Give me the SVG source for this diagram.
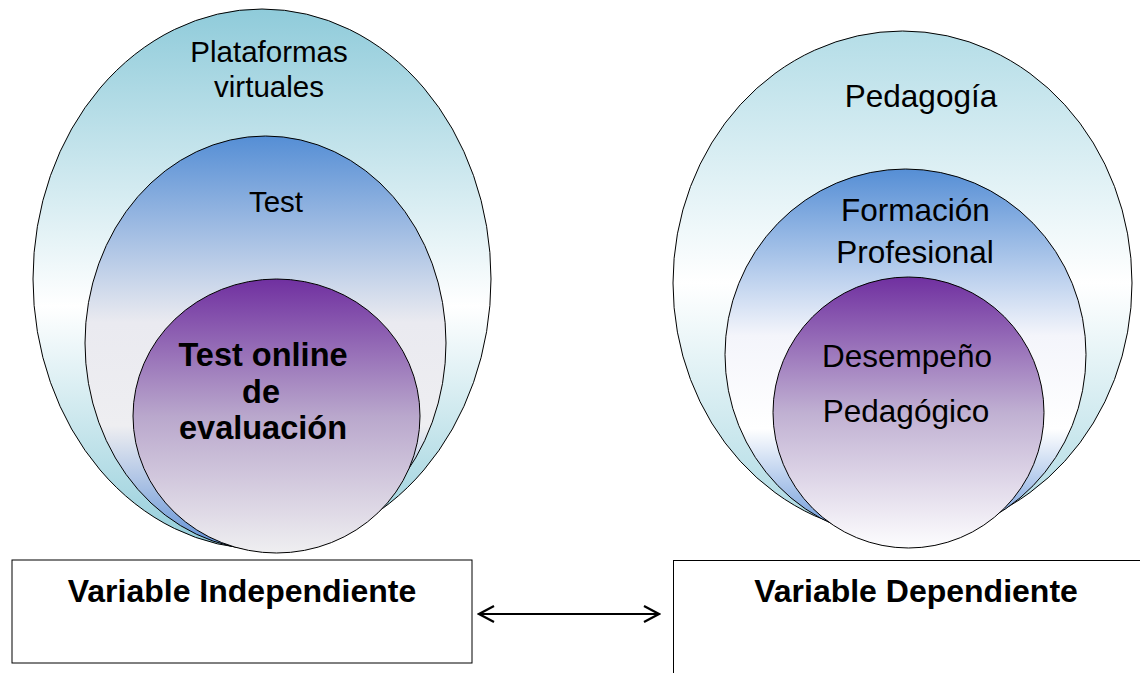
<svg xmlns="http://www.w3.org/2000/svg" width="1140" height="673" viewBox="0 0 1140 673">
<style>
.sh{stroke:#000;stroke-width:1}
.t{font-family:"Liberation Sans",Arial,sans-serif;fill:#000;text-anchor:middle}
.b{font-weight:bold}
.box{fill:#fff;stroke:#000;stroke-width:1}
</style>
<defs>
<linearGradient id="gOutL" x1="0" y1="0" x2="0" y2="1">
<stop offset="0" stop-color="#8fcbda"/><stop offset="0.55" stop-color="#ffffff"/><stop offset="1" stop-color="#92cdda"/>
</linearGradient>
<linearGradient id="gOutR" x1="0" y1="0" x2="0" y2="1">
<stop offset="0" stop-color="#b4dde7"/><stop offset="0.5" stop-color="#ffffff"/><stop offset="1" stop-color="#a9d8e2"/>
</linearGradient>
<linearGradient id="gMidL" x1="0" y1="0" x2="0" y2="1">
<stop offset="0" stop-color="#558ed5"/><stop offset="0.45" stop-color="#eaeaf0"/><stop offset="0.7" stop-color="#eeeef1"/><stop offset="1" stop-color="#5e8fd6"/>
</linearGradient>
<linearGradient id="gMidR" x1="0" y1="0" x2="0" y2="1">
<stop offset="0" stop-color="#558ed5"/><stop offset="0.45" stop-color="#f4f5fb"/><stop offset="0.7" stop-color="#ffffff"/><stop offset="1" stop-color="#5e8fd6"/>
</linearGradient>
<linearGradient id="gInL" x1="0" y1="0" x2="0" y2="1">
<stop offset="0" stop-color="#7030a0"/><stop offset="0.5" stop-color="#b9a7cc"/><stop offset="1" stop-color="#efeff1"/>
</linearGradient>
<linearGradient id="gInR" x1="0" y1="0" x2="0" y2="1">
<stop offset="0" stop-color="#7030a0"/><stop offset="0.5" stop-color="#c0b0d2"/><stop offset="1" stop-color="#fdfdfe"/>
</linearGradient>
<marker id="ah" viewBox="0 0 20 20" refX="18" refY="10" markerWidth="20" markerHeight="20" markerUnits="userSpaceOnUse" orient="auto-start-reverse">
<path d="M3,2 L18,10 L3,18" fill="none" stroke="#000" stroke-width="2.2"/>
</marker>
</defs>
<g id="left-outer"><ellipse class="sh" cx="262" cy="279" rx="229" ry="270" fill="url(#gOutL)"/><text class="t" x="269" y="62" font-size="29.5">Plataformas</text><text class="t" x="269" y="97" font-size="29.5">virtuales</text></g>
<g id="left-middle"><ellipse class="sh" cx="265.5" cy="343" rx="180.5" ry="207" fill="url(#gMidL)"/><text class="t" x="276" y="212" font-size="29.5">Test</text></g>
<g id="left-inner"><ellipse class="sh" cx="276.5" cy="416" rx="143.5" ry="137" fill="url(#gInL)"/><text class="t b" x="263" y="366" font-size="32.5">Test online</text><text class="t b" x="261" y="403" font-size="32.5">de</text><text class="t b" x="263" y="439" font-size="32.5">evaluación</text></g>
<g id="right-outer"><ellipse class="sh" cx="902.5" cy="283" rx="229.5" ry="252" fill="url(#gOutR)"/><text class="t" x="921" y="107" font-size="31.5">Pedagogía</text></g>
<g id="right-middle"><ellipse class="sh" cx="905.5" cy="354.5" rx="180.5" ry="185.5" fill="url(#gMidR)"/><text class="t" x="915.5" y="221" font-size="31.5">Formación</text><text class="t" x="915" y="263" font-size="31.5">Profesional</text></g>
<g id="right-inner"><ellipse class="sh" cx="908.5" cy="412.5" rx="135.5" ry="135.5" fill="url(#gInR)"/><text class="t" x="907" y="367" font-size="31.5">Desempeño</text><text class="t" x="906" y="422" font-size="31.5">Pedagógico</text></g>
<g id="box-independiente"><rect class="box" x="12" y="560" width="460" height="103"/><text class="t b" x="242" y="602" font-size="32">Variable Independiente</text></g>
<g id="box-dependiente"><rect class="box" x="673.5" y="560.5" width="480" height="130"/><text class="t b" x="916" y="602" font-size="32">Variable Dependiente</text></g>
<g id="connectors"><line x1="479" y1="614" x2="659" y2="614" stroke="#000" stroke-width="2.2" marker-start="url(#ah)" marker-end="url(#ah)"/></g>
</svg>
